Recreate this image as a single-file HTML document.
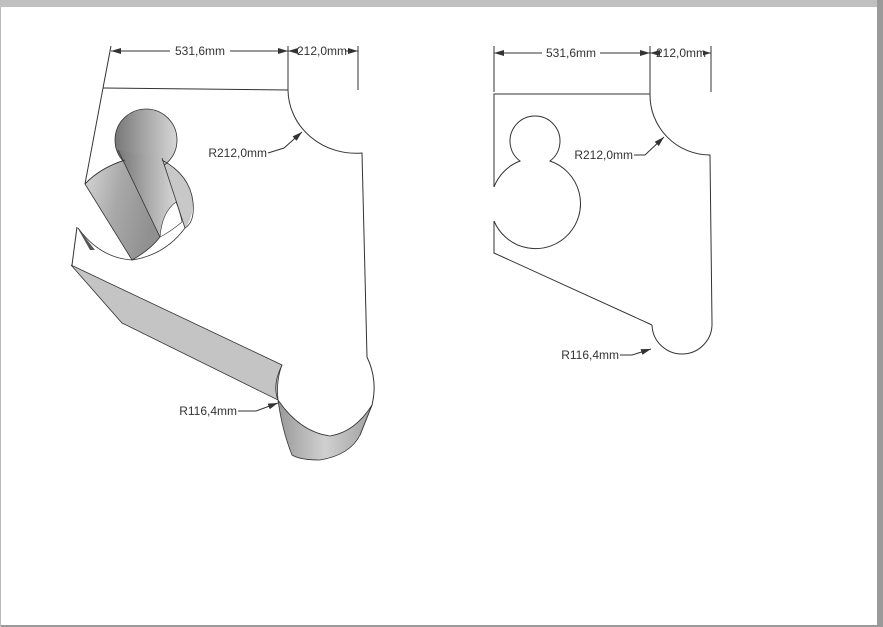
<!DOCTYPE html>
<html><head><style>
html,body{margin:0;padding:0;background:#fff;}
svg{display:block;}
text{font-family:"Liberation Sans",sans-serif;font-size:12px;fill:#333;}
</style></head><body>
<svg width="883" height="627" viewBox="0 0 883 627" xmlns="http://www.w3.org/2000/svg">
<defs>
<marker id="ar" viewBox="0 0 10 6" refX="10" refY="3" markerWidth="10" markerHeight="6" orient="auto-start-reverse" markerUnits="userSpaceOnUse"><path d="M0,0 L10,3 L0,6 z" fill="#333"/></marker>
<linearGradient id="g2" x1="0" y1="0" x2="1" y2="0.3"><stop offset="0" stop-color="#d8d8d8"/><stop offset="0.5" stop-color="#a8a8a8"/><stop offset="1" stop-color="#909090"/></linearGradient>
<linearGradient id="g3" x1="0" y1="0" x2="1" y2="0"><stop offset="0" stop-color="#777"/><stop offset="0.5" stop-color="#a8a8a8"/><stop offset="1" stop-color="#d6d6d6"/></linearGradient>
<linearGradient id="g4" x1="0" y1="0" x2="1" y2="0"><stop offset="0" stop-color="#999"/><stop offset="0.5" stop-color="#d0d0d0"/><stop offset="1" stop-color="#a0a0a0"/></linearGradient>
</defs>
<rect x="0" y="0" width="883" height="7" fill="#c0c0c0"/>
<rect x="877" y="0" width="6" height="627" fill="#9a9a9a"/>
<rect x="0" y="625" width="883" height="2" fill="#9a9a9a"/>
<rect x="0" y="7" width="1" height="620" fill="#bbb"/>

<g fill="none" stroke="#333" stroke-width="1">
<line x1="111" y1="46" x2="103" y2="88"/>
<line x1="288" y1="46" x2="288" y2="90"/>
<line x1="358" y1="46" x2="358" y2="90"/>
<line x1="111" y1="51" x2="170" y2="51" marker-start="url(#ar)"/>
<line x1="230" y1="51" x2="288" y2="51" marker-end="url(#ar)"/>
<line x1="288" y1="51" x2="298" y2="51" marker-start="url(#ar)"/>
<line x1="345" y1="51" x2="358" y2="51" marker-end="url(#ar)"/>
<path d="M103,88 L288,90 A68,64 0 0 0 362,153 L367,357 Q378,380 372,405 L360,435"/>
<path d="M103,88 L85,184"/>
<path d="M77,227 L72,265"/>
<polyline points="268,153 284,148 302,132" marker-end="url(#ar)"/>
</g>

<!-- keyhole shading -->
<path d="M162,160 Q190,175 193,202 Q193,218 185,228 L162,160 Z" fill="#c8c8c8"/>
<path d="M85,184 Q100,168 125,160 L160,237 Q150,250 132,260 Z" fill="url(#g2)" stroke="#333" stroke-width="0.8"/>
<circle cx="146" cy="140" r="31" fill="url(#g3)" stroke="#333" stroke-width="0.8"/>
<path d="M118,150 L160,237 Q162,212 176,202 L162,158 Z" fill="url(#g3)"/>
<path d="M118,150 L160,237 M162,158 L185,228" fill="none" stroke="#333" stroke-width="0.8"/>
<path d="M160,237 Q162,212 176,202 Q180,212 182,222 Q170,232 160,237 Z" fill="#fff" stroke="#333" stroke-width="0.6"/>
<path d="M85,184 Q100,168 125,160 M162,160 Q190,175 193,202 Q195,222 185,228 Q165,255 132,260 Q100,258 78,228" fill="none" stroke="#333" stroke-width="0.8"/>
<path d="M77,227 L95,250 L90,250 Z" fill="#555"/>

<!-- slanted face -->
<path d="M71,265 L282,365 Q276,380 278,400 L122,323 Z" fill="#c4c4c4" stroke="#333" stroke-width="0.8"/>
<!-- bottom cylinder -->
<path d="M278,400 Q300,432 330,436 Q355,432 372,405 L360,435 Q350,455 320,460 Q300,460 292,455 Q282,430 278,400 Z" fill="url(#g4)" stroke="#333" stroke-width="0.8"/>
<path d="M278,400 Q272,385 282,365" fill="none" stroke="#333" stroke-width="0.8"/>
<polyline points="238,411 256,411 278,403" fill="none" stroke="#333" marker-end="url(#ar)"/>

<!-- RIGHT SHAPE -->
<g fill="none" stroke="#333" stroke-width="1">
<line x1="494" y1="46" x2="494" y2="92"/>
<line x1="650" y1="46" x2="650" y2="94"/>
<line x1="711" y1="46" x2="711" y2="92"/>
<line x1="494" y1="53" x2="542" y2="53" marker-start="url(#ar)"/>
<line x1="600" y1="53" x2="650" y2="53" marker-end="url(#ar)"/>
<line x1="650" y1="53" x2="660" y2="53" marker-start="url(#ar)"/>
<line x1="703" y1="53" x2="711" y2="53" marker-end="url(#ar)"/>
<path d="M494,187 L494,94 L650,94 A60,60 0 0 0 710,155 L712,323"/>
<path d="M494,221 L494,253 L652,325"/>
<path d="M494,187 A45,45 0 0 1 520,161 A25,25 0 1 1 550,161 A45,45 0 1 1 494,221"/>
<path d="M652,325 A27,27 0 1 0 712,323"/>
<polyline points="634,155 645,155 664,137" marker-end="url(#ar)"/>
<polyline points="620,355 632,355 651,349" marker-end="url(#ar)"/>
</g>

<g>
<rect x="171" y="44" width="58" height="14" fill="#fff"/>
<text x="200" y="55" text-anchor="middle">531,6mm</text>
<rect x="299" y="44" width="46" height="14" fill="#fff"/>
<text x="322" y="55" text-anchor="middle">212,0mm</text>
<text x="267" y="157" text-anchor="end">R212,0mm</text>
<text x="237" y="415" text-anchor="end">R116,4mm</text>
<rect x="543" y="46" width="56" height="14" fill="#fff"/>
<text x="571" y="57" text-anchor="middle">531,6mm</text>
<rect x="661" y="46" width="42" height="14" fill="#fff"/>
<text x="681" y="57" text-anchor="middle">212,0mm</text>
<text x="633" y="159" text-anchor="end">R212,0mm</text>
<text x="619" y="359" text-anchor="end">R116,4mm</text>
</g>
</svg>
</body></html>
